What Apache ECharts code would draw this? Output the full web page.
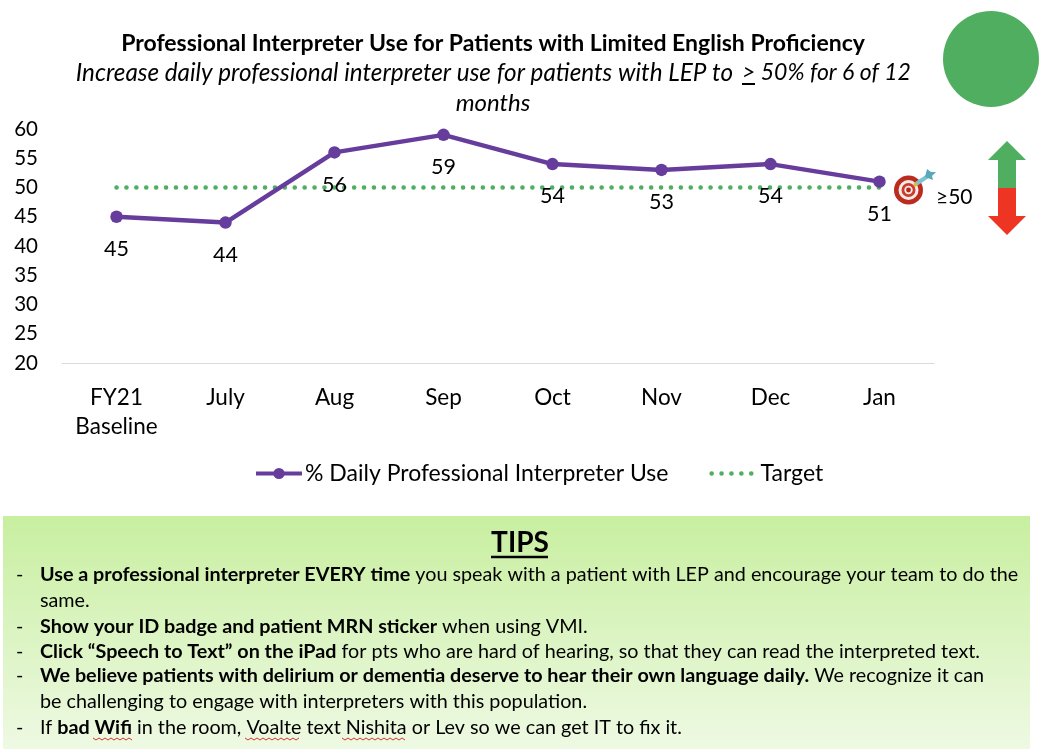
<!DOCTYPE html>
<html><head><meta charset="utf-8">
<style>html,body{margin:0;padding:0;background:#fff}#c{width:1056px;height:756px}</style>
<script src="https://cdn.jsdelivr.net/npm/echarts@6/dist/echarts.min.js"></script>
</head><body><div id="c"></div>
<script>
var categories = ['FY21\nBaseline','July','Aug','Sep','Oct','Nov','Dec','Jan'];
var useValues = [45,44,56,59,54,53,54,51];
var targetValues = [50,50,50,50,50,50,50,50];
var seriesNames = ['% Daily Professional Interpreter Use','Target'];
var titleText = 'Professional Interpreter Use for Patients with Limited English Proficiency';
var tips = [
  {y:575, parts:[['b','Use a professional interpreter EVERY time'],['n',' you speak with a patient with LEP and encourage your team to do the']], dash:true},
  {y:601, parts:[['n','same.']]},
  {y:627, parts:[['b','Show your ID badge and patient MRN sticker'],['n',' when using VMI.']], dash:true},
  {y:652, parts:[['b','Click \u201CSpeech to Text\u201D on the iPad'],['n',' for pts who are hard of hearing, so that they can read the interpreted text.']], dash:true},
  {y:676, parts:[['b','We believe patients with delirium or dementia deserve to hear their own language daily.'],['n',' We recognize it can']], dash:true},
  {y:702, parts:[['n','be challenging to engage with interpreters with this population.']]},
  {y:728, parts:[['n','If '],['b','bad Wifi'],['n',' in the room, Voalte text Nishita or Lev so we can get IT to fix it.']], dash:true}
];
var FONT='Lato', INK='#000', TIP=19.75;
var chart = echarts.init(document.getElementById('c'),null,{renderer:'canvas'});
function line(rich,y,x){return {type:'text',z:20,style:{x:x,y:y,text:rich,align:'left',verticalAlign:'middle',fontFamily:FONT,fontSize:TIP,fill:INK,
  rich:{b:{fontFamily:FONT,fontWeight:'bold',fontSize:TIP,fill:INK,color:INK},n:{fontFamily:FONT,fontSize:TIP,fill:INK,color:INK}}}};}
function squiggle(x1,x2,y){var p=[],i=0;for(var x=x1;x<=x2;x+=3){p.push([x,y+(i++%2?2:0)]);}
  return {type:'polyline',z:21,shape:{points:p},style:{stroke:'#d9362b',lineWidth:1,fill:null}};}
function sub(text,x,y,align,size){return {type:'text',z:20,style:{x:x,y:y,text:text,align:align,verticalAlign:'middle',fontFamily:FONT,fontStyle:'italic',fontSize:size,fill:INK}};}
var g=[];
g.push({type:'rect',z:1,shape:{x:3,y:516,width:1027,height:233},style:{fill:new echarts.graphic.LinearGradient(0,0,0,1,[{offset:0,color:'#c8efa0'},{offset:1,color:'#eef9e3'}])}});
g.push({type:'text',z:20,style:{x:493,y:44,text:titleText,align:'center',verticalAlign:'middle',fontFamily:FONT,fontWeight:'bold',fontSize:23,fill:INK}});
g.push(sub('Increase daily professional interpreter use for patients with LEP to',733,73,'right',24.25));
g.push(sub('> 50% for 6 of 12',742,73,'left',23));
g.push(sub('months',493,103,'center',24));
g.push({type:'line',z:20,shape:{x1:742,y1:84,x2:755,y2:84},style:{stroke:INK,lineWidth:2}});
g.push({type:'circle',z:5,shape:{cx:991,cy:59,r:48},style:{fill:'#4fae5f'}});
g.push({type:'polygon',z:5,shape:{points:[[1007,141],[1026,160],[1016,160],[1016,188],[998,188],[998,160],[988,160]]},style:{fill:'#4fae5f'}});
g.push({type:'polygon',z:5,shape:{points:[[998,188],[1016,188],[1016,216],[1026,216],[1007,235],[988,216],[998,216]]},style:{fill:'#ee3524'}});
[[14.5,'#bb2b1f'],[10,'#f6ece6'],[7,'#cf3a2c'],[4.2,'#f6ece6'],[2.4,'#b3261e']].forEach(function(c){
  g.push({type:'circle',z:6,shape:{cx:908.5,cy:190,r:c[0]},style:{fill:c[1]}});});
g.push({type:'line',z:7,shape:{x1:916,y1:184,x2:928,y2:176},style:{stroke:'#7cc3cf',lineWidth:4,lineCap:'round'}});
g.push({type:'circle',z:7,shape:{cx:915.5,cy:184.5,r:2},style:{fill:'#e3b93c'}});
g.push({type:'polygon',z:7,shape:{points:[[925,177],[927,169],[931,172],[936,172],[932,176],[933,180]]},style:{fill:'#5aa9bb'}});
g.push({type:'text',z:20,style:{x:936,y:197,text:'\u226550',verticalAlign:'middle',fontFamily:FONT,fontSize:21,fill:INK}});
g.push({type:'text',z:20,style:{x:520,y:543,text:'TIPS',align:'center',verticalAlign:'middle',fontFamily:FONT,fontWeight:'bold',fontSize:28,fill:'#000'}});
g.push({type:'line',z:20,shape:{x1:491,y1:557,x2:548,y2:557},style:{stroke:'#000',lineWidth:2.5}});
tips.forEach(function(t){
  if(t.dash)g.push(line('-',t.y,16));
  var s=t.parts.map(function(p){return '{'+p[0]+'|'+p[1]+'}';}).join('');
  g.push(line(s,t.y,40));
});
g.push(squiggle(93,133,738),squiggle(245,299,738),squiggle(342,405,738));
chart.setOption({
  animation:false,backgroundColor:'#fff',
  textStyle:{fontFamily:FONT},
  grid:{left:62,right:122,top:129,height:234,containLabel:false},
  legend:{left:254,top:462,padding:0,itemGap:41,itemWidth:46,itemHeight:14,
    textStyle:{fontFamily:FONT,fontSize:23,color:INK,padding:[0,0,0,-2]},
    data:[{name:seriesNames[0],lineStyle:{width:4}},{name:seriesNames[1],itemStyle:{opacity:0},lineStyle:{width:4.5}}]},
  xAxis:{type:'category',data:categories,boundaryGap:true,
    axisLine:{lineStyle:{color:'#d9d9d9',width:1}},axisTick:{show:false},
    axisLabel:{fontFamily:FONT,fontSize:22.5,color:INK,margin:20,lineHeight:29,interval:0}},
  yAxis:{type:'value',min:20,max:60,interval:5,
    axisLine:{show:false},axisTick:{show:false},splitLine:{show:false},
    axisLabel:{fontFamily:FONT,fontSize:20.5,color:INK,margin:24}},
  series:[
    {name:seriesNames[0],type:'line',data:useValues,z:4,symbol:'circle',symbolSize:12.5,
     lineStyle:{color:'#663d9c',width:4.5},itemStyle:{color:'#663d9c'},
     label:{show:true,position:'bottom',distance:15,fontFamily:FONT,fontSize:21.5,color:INK}},
    {name:seriesNames[1],type:'line',data:targetValues,z:3,symbol:'none',
     lineStyle:{color:'#4fae5f',width:4.5,type:[0.1,9.8],cap:'round'},itemStyle:{color:'#4fae5f'}}
  ],
  graphic:{elements:g}
});
</script></body></html>
